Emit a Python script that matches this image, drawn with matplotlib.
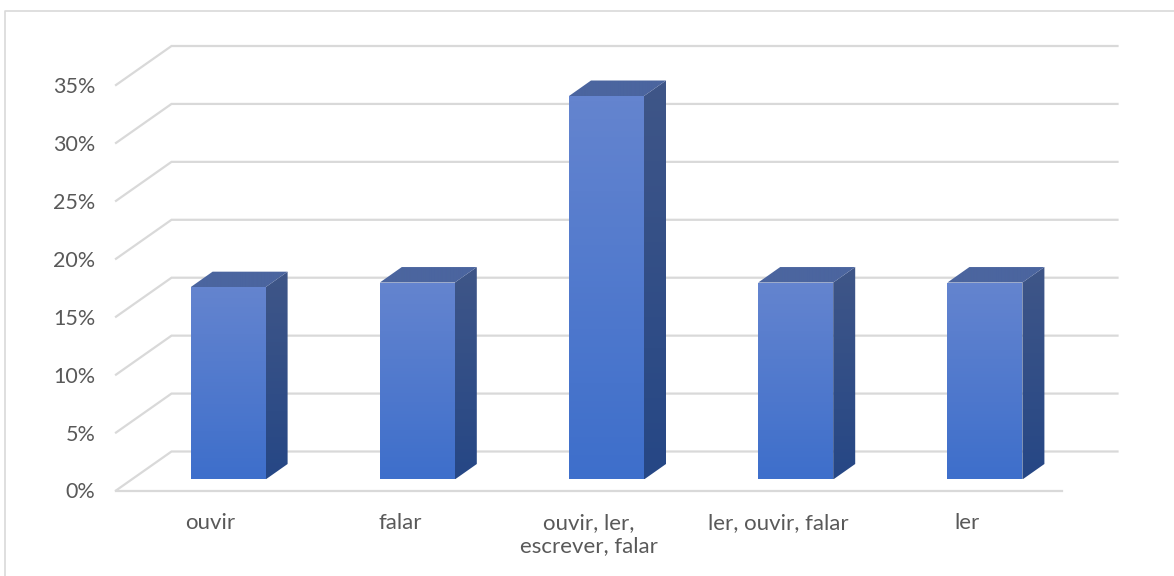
import numpy as np
import matplotlib
matplotlib.use("Agg")
import matplotlib.pyplot as plt
from matplotlib.colors import LinearSegmentedColormap
from matplotlib.patches import Polygon

plt.rcParams['font.family'] = ['Lato', 'DejaVu Sans']

categories = ["ouvir", "falar", "ouvir, ler,\nescrever, falar", "ler, ouvir, falar", "ler"]
values = [16.6, 17.0, 33.1, 17.0, 17.0]
ticks = [0, 5, 10, 15, 20, 25, 30, 35]
tick_labels = ["0%", "5%", "10%", "15%", "20%", "25%", "30%", "35%"]

W, H = 1174, 576
grid_color = "#d9d9d9"
text_color = "#595959"

fig = plt.figure(figsize=(W / 100, H / 100), dpi=100, facecolor="white")
ax = fig.add_axes([116 / W, 1 - 490.5 / H, (1062 - 116) / W, (490.5 - 85) / H])

# pixel sizes turned into data units for the fake 3d depth
ux = 5 / (1062 - 116)
uy = 35 / (490.5 - 85)
wall_dx, wall_dy = 55.5 * ux, 39 * uy
bar_dx, bar_dy = 17.5 * ux, 11 * uy
depth_dx, depth_dy = 22 * ux, 15.5 * uy
bar_w = 75 * ux


def shade(corners, top, bottom, z=3):
    # vertical gradient clipped to a polygon
    cmap = LinearSegmentedColormap.from_list("face", [top, bottom])
    xs = [c[0] for c in corners]
    ys = [c[1] for c in corners]
    img = ax.imshow(np.linspace(0, 1, 64).reshape(-1, 1), cmap=cmap, aspect="auto", zorder=z,
                    extent=[min(xs), max(xs), min(ys), max(ys)], origin="upper")
    poly = Polygon(corners, closed=True, transform=ax.transData, fc="none", ec="none", clip_on=False)
    ax.add_patch(poly)
    # faces can rise above the 35% line, so only the polygon clips them
    img.set_clip_box(fig.bbox)
    img.set_clip_path(poly)


# gridlines: slanted floor/wall edge then the back wall
for t in ticks:
    ax.plot([-0.5, -0.5 + wall_dx, 4.5 + wall_dx], [t, t + wall_dy, t + wall_dy],
            color=grid_color, lw=1.6, clip_on=False, zorder=1, solid_joinstyle="miter")
ax.plot([-0.5, 4.5], [0, 0], color=grid_color, lw=1.6, clip_on=False, zorder=1)

for i, v in enumerate(values):
    x0 = i - bar_w / 2 + bar_dx
    x1 = i + bar_w / 2 + bar_dx
    y0 = bar_dy
    y1 = v + bar_dy
    shade([(x1, y0), (x1 + depth_dx, y0 + depth_dy), (x1 + depth_dx, y1 + depth_dy), (x1, y1)],
          "#3f5688", "#264785", z=3)
    shade([(x0, y1), (x1, y1), (x1 + depth_dx, y1 + depth_dy), (x0 + depth_dx, y1 + depth_dy)],
          "#4b659f", "#4b659f", z=3)
    shade([(x0, y0), (x1, y0), (x1, y1), (x0, y1)], "#6484cf", "#3e6fcb", z=4)

ax.set_xlim(-0.5, 4.5)
ax.set_ylim(0, 35)
ax.set_xticks(range(len(categories)), categories, fontsize=16, color=text_color, linespacing=1.22)
ax.set_yticks(ticks, tick_labels, fontsize=15.5, color=text_color)
ax.tick_params(axis="x", length=0, pad=16)
ax.tick_params(axis="y", length=0, pad=15)
for s in ax.spines.values():
    s.set_visible(False)
ax.patch.set_visible(False)

# chart area border, only top and left fall inside the image
fig.add_artist(plt.Line2D([5 / W, 5 / W, 1], [0, 1 - 10.5 / H, 1 - 10.5 / H], color=grid_color, lw=1.2))

fig.savefig("out.png", dpi=100, facecolor="white")
